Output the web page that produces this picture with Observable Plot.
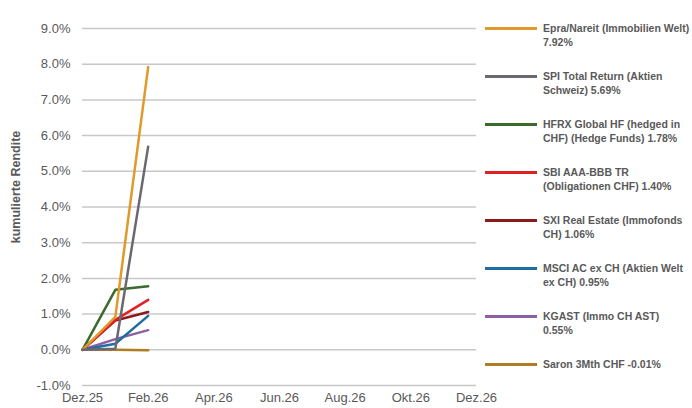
<!DOCTYPE html>
<html>
<head>
<meta charset="utf-8">
<script src="https://cdn.jsdelivr.net/npm/d3@7"></script>
<script src="https://cdn.jsdelivr.net/npm/@observablehq/plot@0.6"></script>
<style>
  body { margin: 0; background: #fff; font-family: "Liberation Sans", Arial, sans-serif; }
  #wrap { position: relative; width: 692px; height: 408px; overflow: hidden; }
  #chart { position: absolute; left: 0; top: 0; }
  #ylabel { position: absolute; left: 16px; top: 187px; transform: translate(-50%, -50%) rotate(-90deg);
            white-space: nowrap; font-size: 12.5px; font-weight: bold; color: #595959; }
  #legend { position: absolute; left: 485px; top: 21px; }
  .item { display: flex; height: 48px; }
  .sw { width: 52px; height: 3px; margin-top: 6px; margin-right: 6px; flex: none; }
  .lab { font-size: 10.5px; font-weight: bold; color: #595959; line-height: 14px; white-space: pre; }
</style>
</head>
<body>
<div id="wrap"><div id="chart"></div><div id="ylabel">kumulierte Rendite</div><div id="legend"></div></div>
<script>
// Data
const months = ["Dez.25", "Jan.26", "Feb.26"];          // observation months (index 0,1,2)
const tickLabels = ["Dez.25", "Feb.26", "Apr.26", "Jun.26", "Aug.26", "Okt.26", "Dez.26"];
const tickMonths = [0, 2, 4, 6, 8, 10, 12];
const seriesNames = [
  "Epra/Nareit (Immobilien Welt)",
  "SPI Total Return (Aktien Schweiz)",
  "HFRX Global HF (hedged in CHF) (Hedge Funds)",
  "SBI AAA-BBB TR (Obligationen CHF)",
  "SXI Real Estate (Immofonds CH)",
  "MSCI AC ex CH (Aktien Welt ex CH)",
  "KGAST (Immo CH AST)",
  "Saron 3Mth CHF"
];
const legendLabels = [
  "Epra/Nareit (Immobilien Welt)\n7.92%",
  "SPI Total Return (Aktien\nSchweiz) 5.69%",
  "HFRX Global HF (hedged in\nCHF) (Hedge Funds) 1.78%",
  "SBI AAA-BBB TR\n(Obligationen CHF) 1.40%",
  "SXI Real Estate (Immofonds\nCH) 1.06%",
  "MSCI AC ex CH (Aktien Welt\nex CH) 0.95%",
  "KGAST (Immo CH AST)\n0.55%",
  "Saron 3Mth CHF -0.01%"
];
const epra   = [0, 0.92, 7.92];
const spi    = [0, 0.03, 5.69];
const hfrx   = [0, 1.68, 1.78];
const sbi    = [0, 0.84, 1.40];
const sxi    = [0, 0.82, 1.06];
const msci   = [0, 0.17, 0.95];
const kgast  = [0, 0.30, 0.55];
const saron  = [0, 0.00, -0.01];
const seriesValues = [epra, spi, hfrx, sbi, sxi, msci, kgast, saron];
const colors = ["#e0992b", "#6b686f", "#3a6b2c", "#e31f26", "#8c1a1d", "#1f6ea3", "#8f5fa3", "#b07d22"];
const yTicks = [-1, 0, 1, 2, 3, 4, 5, 6, 7, 8, 9];

const rows = [];
seriesNames.forEach((name, s) => {
  seriesValues[s].forEach((v, i) => rows.push({series: name, month: i, value: v}));
});
const drawOrder = [7, 6, 5, 4, 3, 2, 0, 1].map(i => seriesNames[i]);

const chart = Plot.plot({
  width: 500,
  height: 408,
  marginLeft: 82,
  marginRight: 24,
  marginTop: 28,
  marginBottom: 23,
  style: {fontFamily: "'Liberation Sans', Arial, sans-serif", fontSize: "13px", color: "#595959", background: "transparent"},
  x: {domain: [0, 12]},
  y: {domain: [-1, 9]},
  color: {domain: seriesNames, range: colors},
  marks: [
    Plot.gridY(yTicks, {stroke: "#c8c8c8", strokeOpacity: 1, strokeWidth: 1.5}),
    Plot.axisY(yTicks, {tickSize: 0, tickPadding: 12, tickFormat: d => d.toFixed(1) + "%", label: null, fill: "#595959"}),
    Plot.axisX(tickMonths, {tickSize: 0, tickPadding: 7, tickFormat: (d, i) => tickLabels[i], label: null, fill: "#595959"}),
    ...drawOrder.map(name => Plot.line(rows.filter(r => r.series === name), {
      x: "month", y: "value", stroke: "series", strokeWidth: 2.5, strokeLinejoin: "miter"
    }))
  ]
});
document.getElementById("chart").appendChild(chart);

const legend = document.getElementById("legend");
seriesNames.forEach((name, i) => {
  const item = document.createElement("div");
  item.className = "item";
  const sw = document.createElement("div");
  sw.className = "sw";
  sw.style.background = colors[i];
  const lab = document.createElement("div");
  lab.className = "lab";
  lab.textContent = legendLabels[i];
  item.appendChild(sw); item.appendChild(lab);
  legend.appendChild(item);
});
</script>
</body>
</html>
